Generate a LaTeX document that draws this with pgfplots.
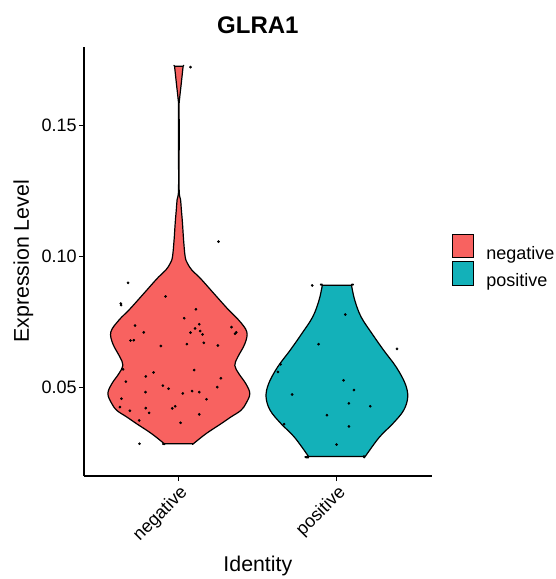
\documentclass[border=0pt]{standalone}
\usepackage{fontspec}
\setmainfont{Liberation Sans}
\usepackage{pgfplots}
\pgfplotsset{compat=1.18}
\usepackage{pgfplotstable}
\definecolor{negc}{RGB}{248,98,96}
\definecolor{posc}{RGB}{19,177,185}
\pgfplotsset{boxlegend/.style={legend image code/.code={\draw[##1] (0pt,-3pt) rectangle (15.75pt,14.5pt);}}}

% violin outline: side (+1 right / -1 left), half-width (category units), value
\pgfplotstableread{
s hw v
1 0.0918 0.0286
1 0.0918 0.0286
1 0.171 0.0324
1 0.266 0.0362
1 0.329 0.0388
1 0.392 0.0413
1 0.424 0.0439
1 0.449 0.0477
1 0.424 0.0515
1 0.380 0.0553
1 0.354 0.0585
1 0.373 0.0617
1 0.418 0.0668
1 0.430 0.0713
1 0.380 0.0757
1 0.316 0.0796
1 0.259 0.0834
1 0.203 0.0872
1 0.165 0.0898
1 0.127 0.0923
1 0.082 0.0949
1 0.054 0.0975
1 0.040 0.1000
1 0.030 0.1064
1 0.023 0.1128
1 0.016 0.1179
1 0.011 0.1217
1 0.002 0.1254
1 0.002 0.1408
1 0.002 0.1523
1 0.002 0.1587
1 0.006 0.1610
1 0.016 0.1664
1 0.027 0.1726
1 0.027 0.1726
-1 0.027 0.1726
-1 0.027 0.1726
-1 0.016 0.1664
-1 0.006 0.1610
-1 0.002 0.1587
-1 0.002 0.1523
-1 0.002 0.1408
-1 0.002 0.1254
-1 0.011 0.1217
-1 0.016 0.1179
-1 0.023 0.1128
-1 0.030 0.1064
-1 0.040 0.1000
-1 0.054 0.0975
-1 0.082 0.0949
-1 0.127 0.0923
-1 0.165 0.0898
-1 0.203 0.0872
-1 0.259 0.0834
-1 0.316 0.0796
-1 0.380 0.0757
-1 0.430 0.0713
-1 0.418 0.0668
-1 0.373 0.0617
-1 0.354 0.0585
-1 0.380 0.0553
-1 0.424 0.0515
-1 0.449 0.0477
-1 0.424 0.0439
-1 0.392 0.0413
-1 0.329 0.0388
-1 0.266 0.0362
-1 0.171 0.0324
-1 0.0918 0.0286
-1 0.0918 0.0286
1 0.0918 0.0286
}\negprof

\pgfplotstableread{
s hw v
1 0.179 0.02374
1 0.179 0.02374
1 0.269 0.03113
1 0.353 0.03623
1 0.422 0.04132
1 0.448 0.04642
1 0.432 0.05152
1 0.375 0.05789
1 0.296 0.06426
1 0.222 0.07063
1 0.153 0.07700
1 0.113 0.08337
1 0.092 0.08911
1 0.092 0.08911
-1 0.092 0.08911
-1 0.092 0.08911
-1 0.113 0.08337
-1 0.153 0.07700
-1 0.222 0.07063
-1 0.296 0.06426
-1 0.375 0.05789
-1 0.432 0.05152
-1 0.448 0.04642
-1 0.422 0.04132
-1 0.353 0.03623
-1 0.269 0.03113
-1 0.179 0.02374
-1 0.179 0.02374
1 0.179 0.02374
}\posprof

\pgfplotstableread{
x y
0.679 0.0900
0.633 0.0821
0.635 0.0815
0.916 0.0848
1.108 0.0799
1.034 0.0765
1.129 0.0742
1.103 0.0726
1.074 0.0710
1.135 0.0716
1.150 0.0703
1.333 0.0731
1.363 0.0711
1.356 0.0706
0.778 0.0711
0.723 0.0737
0.694 0.0680
0.715 0.0681
0.886 0.0659
1.051 0.0666
1.158 0.0671
1.247 0.0661
0.647 0.0570
0.665 0.0523
0.840 0.0558
0.791 0.0543
1.097 0.0567
1.266 0.0536
1.243 0.0502
0.899 0.0508
0.935 0.0496
0.789 0.0483
1.025 0.0478
1.084 0.0487
1.129 0.0483
1.175 0.0456
0.637 0.0458
0.627 0.0426
0.690 0.0412
0.791 0.0422
0.812 0.0404
0.958 0.0421
0.977 0.0429
0.749 0.0375
1.129 0.0398
1.011 0.0366
0.751 0.0286
1.074 0.1723
1.251 0.1057
}\negpts

\pgfplotstableread{
x y
1.844 0.0890
2.053 0.0779
1.884 0.0666
2.380 0.0648
1.644 0.0589
1.627 0.0560
2.042 0.0528
2.108 0.0491
1.717 0.0474
2.076 0.0440
2.211 0.0429
1.937 0.0395
1.666 0.0361
2.076 0.0352
1.998 0.0283
2.171 0.0237
}\pospts

\begin{document}
\begin{tikzpicture}
\begin{axis}[
  scale only axis,
  width=260.8pt, height=322pt,
  xmin=0.4, xmax=2.6, ymin=0.0163, ymax=0.1801,
  axis x line*=bottom, axis y line*=left,
  axis line style={line width=0.9pt, -},
  tick align=outside, major tick length=3.75pt,
  tick style={line width=0.9pt, black},
  xtick={1,2}, xticklabels={negative,positive},
  ytick={0.05,0.10,0.15},
  yticklabel style={/pgf/number format/fixed, /pgf/number format/fixed zerofill, /pgf/number format/precision=2, /pgf/number format/assume math mode=true, inner sep=1.5pt},
  ticklabel style={font=\fontsize{13.5}{16}\selectfont, text=black},
  xticklabel style={rotate=45, anchor=north east, inner sep=1.5pt},
  title={GLRA1},
  title style={font=\bfseries\fontsize{18}{20}\selectfont, at={(axis description cs:0.5,1)}, anchor=base, yshift=4pt},
  xlabel={Identity},
  xlabel style={font=\fontsize{16}{18}\selectfont, at={(axis description cs:0.5,0)}, anchor=base, yshift=-71.8pt},
  ylabel={Expression Level},
  ylabel style={font=\fontsize{16}{18}\selectfont, at={(axis description cs:0,0.5)}, anchor=center, yshift=45.4pt},
  legend style={at={(axis description cs:1,0.5)}, anchor=west, xshift=15pt, draw=none, fill=none, inner sep=0pt, row sep=0pt,
    nodes={inner sep=0pt},
    font=\fontsize{13.5}{16}\selectfont,
    /tikz/every odd column/.style={column sep=9.3pt}},
  legend cell align=left,
  clip=false,
]
\addplot[fill=negc, draw=black, line width=0.9pt, smooth, tension=0.6, line join=round, forget plot] table[x expr=1+\thisrow{s}*\thisrow{hw}, y=v] {\negprof};
\addplot[fill=posc, draw=black, line width=0.9pt, smooth, tension=0.6, line join=round, forget plot] table[x expr=2+\thisrow{s}*\thisrow{hw}, y=v] {\posprof};
\addplot[only marks, mark=*, mark size=0.8pt, black, forget plot] table[x=x, y=y] {\negpts};
\addplot[only marks, mark=*, mark size=0.8pt, black, forget plot] table[x=x, y=y] {\pospts};
\addlegendimage{boxlegend, fill=negc, draw=black, line width=0.7pt}
\addlegendentry{negative}
\addlegendimage{boxlegend, fill=posc, draw=black, line width=0.7pt}
\addlegendentry{positive}
\coordinate (bl) at (rel axis cs:0,0);
\coordinate (tr) at (rel axis cs:1,1);
\end{axis}
\pgfresetboundingbox
\path[use as bounding box] ([shift={(-63pt,-77.25pt)}]bl) rectangle ([shift={(92.5pt,35pt)}]tr);
\end{tikzpicture}
\end{document}
